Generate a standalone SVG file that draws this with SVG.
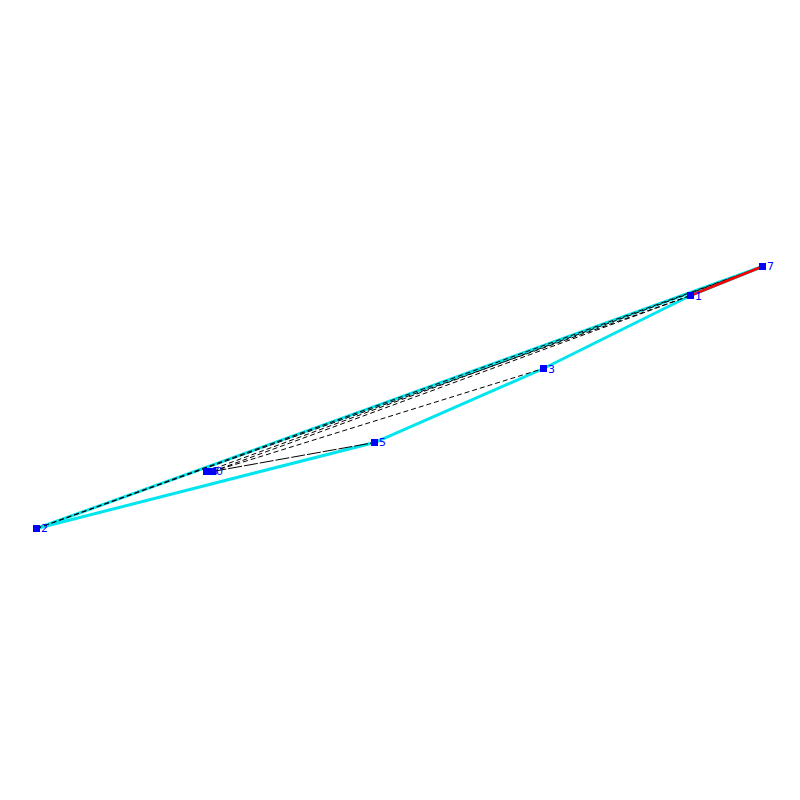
<svg xmlns="http://www.w3.org/2000/svg" width="800" height="800" viewBox="0 0 800 800">
<style>
.hull{stroke:#00e5ee;stroke-width:3;fill:none}
.d{stroke:#000;stroke-width:1;stroke-dasharray:5,3;fill:none}
.s{stroke:#000;stroke-width:1;fill:none}
.red{stroke:#ff0000;stroke-width:2.5}
.n rect{fill:#0000ff}
.n text{fill:#0000ff;font-family:"DejaVu Sans",sans-serif;font-size:11px}
</style>
<rect width="800" height="800" fill="#fff"/>
<g id="connectors">
<line class="hull" x1="36.5" y1="528.5" x2="762.5" y2="266.5"/>
<polyline class="hull" points="36.5,528.5 374.5,442.5 543.5,368.5 690.5,295.5 762.5,266.5"/>
<line class="d" x1="36.5" y1="528.5" x2="762.5" y2="266.5"/>
<line class="d" x1="36.5" y1="528.5" x2="690.5" y2="295.5"/>
<line class="d" x1="206.5" y1="471.5" x2="762.5" y2="266.5"/>
<line class="d" x1="212.5" y1="471.5" x2="690.5" y2="295.5"/>
<line class="d" x1="212.5" y1="471.5" x2="543.5" y2="368.5"/>
<line class="s" x1="212.5" y1="471.5" x2="374.5" y2="442.5" stroke-dasharray="14,2"/>
<line class="red" x1="690.5" y1="295.5" x2="762.5" y2="266.5"/>
</g>
<g id="node7" class="n"><rect x="759" y="263" width="7" height="7"/><text x="767" y="270">7</text></g>
<g id="node1" class="n"><rect x="687" y="292" width="7" height="7"/><text x="695" y="300">1</text></g>
<g id="node3" class="n"><rect x="540" y="365" width="7" height="7"/><text x="548" y="373">3</text></g>
<g id="node5" class="n"><rect x="371" y="439" width="7" height="7"/><text x="379" y="446">5</text></g>
<g id="node6" class="n"><rect x="203" y="468" width="7" height="7"/><text x="211" y="475">6</text></g>
<g id="node0" class="n"><rect x="209" y="468" width="7" height="7"/><text x="216" y="475">0</text></g>
<g id="node2" class="n"><rect x="33" y="525" width="7" height="7"/><text x="41" y="532">2</text></g>
</svg>
